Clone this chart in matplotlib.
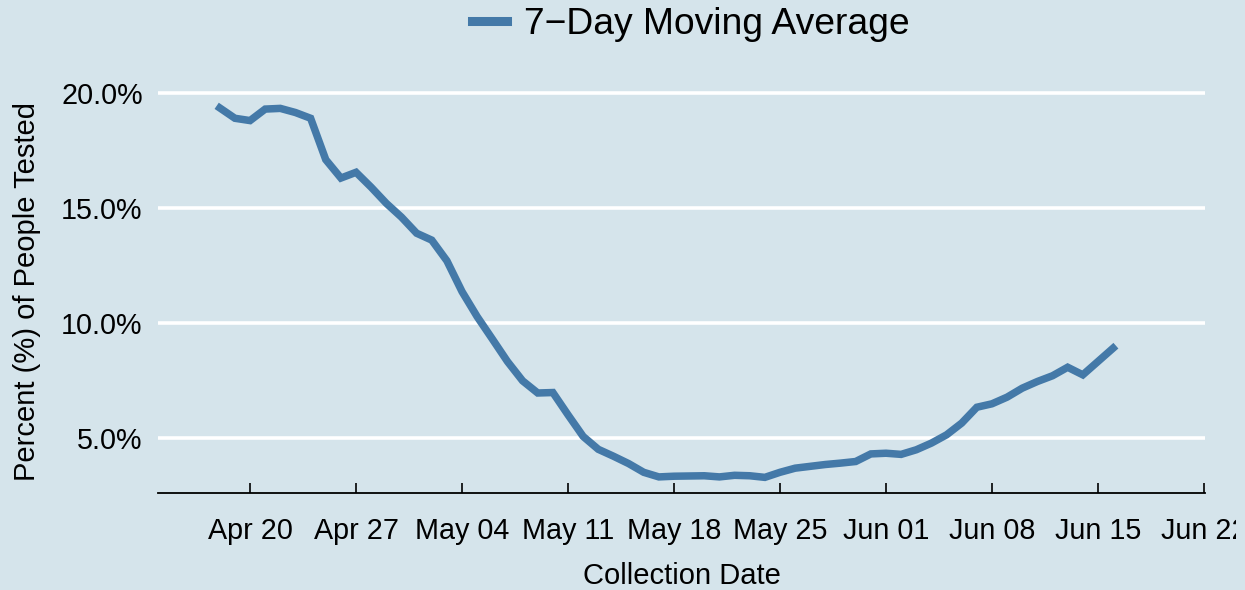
import matplotlib
matplotlib.use("Agg")
import matplotlib.pyplot as plt
import matplotlib.dates as mdates
from matplotlib.transforms import Bbox
import numpy as np
import datetime as dt

plt.rcParams['font.family'] = ['Liberation Sans', 'DejaVu Sans']

start_date = "2020-04-18"
pct_positive = [19.35, 18.9, 18.8, 19.3, 19.33, 19.15, 18.9, 17.1, 16.3, 16.55,
                15.9, 15.2, 14.6, 13.9, 13.6, 12.7, 11.36, 10.27, 9.3, 8.32,
                7.48, 6.95, 6.97, 6.0, 5.06, 4.5, 4.2, 3.88, 3.5, 3.3,
                3.33, 3.34, 3.35, 3.3, 3.37, 3.35, 3.28, 3.5, 3.68, 3.76,
                3.84, 3.9, 3.97, 4.3, 4.33, 4.28, 4.48, 4.77, 5.13, 5.64,
                6.33, 6.48, 6.77, 7.16, 7.45, 7.7, 8.07, 7.74, 8.32, 8.9]
tick_dates = ["2020-04-20", "2020-04-27", "2020-05-04", "2020-05-11", "2020-05-18",
              "2020-05-25", "2020-06-01", "2020-06-08", "2020-06-15", "2020-06-22"]
y_ticks = [5.0, 10.0, 15.0, 20.0]
series_label = "7\u2212Day Moving Average"

d0 = np.datetime64(start_date)
dates = (d0 + np.arange(len(pct_positive))).astype("datetime64[D]").astype(object)
ticks = [dt.datetime.strptime(t, "%Y-%m-%d") for t in tick_dates]

bg = "#d5e4eb"
fig = plt.figure(figsize=(12.45, 5.9), dpi=100, facecolor=bg)
ax = fig.add_axes([158/1245, 97/590, (1205-158)/1245, (493-70)/590])
ax.set_facecolor(bg)

for y in y_ticks:
    ax.axhline(y, color="white", lw=2.6, zorder=1)

ax.plot(dates, pct_positive, color="#4479a8", lw=5.4, solid_joinstyle="miter",
        label=series_label, zorder=3)

ax.set_xlim(mdates.date2num(dt.datetime(2020, 4, 20)) - 6.08,
            mdates.date2num(dt.datetime(2020, 6, 22)) + 0.07)
ax.set_ylim(2.6, 21.0)

ax.set_xticks(ticks)
ax.xaxis.set_major_formatter(mdates.DateFormatter("%b %d"))
ax.set_yticks(y_ticks)
ax.set_yticklabels([f"{v:.1f}%" for v in y_ticks])

for s in ["top", "right", "left"]:
    ax.spines[s].set_visible(False)
ax.spines["bottom"].set_color("black")
ax.spines["bottom"].set_linewidth(1.3)

ax.tick_params(axis="x", direction="in", length=7, width=1.2, color="black",
               labelsize=20.7, pad=17)
ax.tick_params(axis="y", length=0, labelsize=20.7, pad=11)

ax.set_xlabel("Collection Date", fontsize=21, labelpad=12.5)
ax.set_ylabel("Percent (%) of People Tested", fontsize=21)
ax.yaxis.set_label_coords(-0.112, 0.4775)

leg = fig.legend(loc="upper center", bbox_to_anchor=(0.555, 1.045), frameon=False,
                 fontsize=26.8, handlelength=0.95, handletextpad=0.45)
for h in leg.get_lines():
    h.set_linewidth(6.5)

# clip tick labels at the right border like the reference
clip = Bbox.from_extents(0, 0, 1236, 590)
for lab in ax.get_xticklabels():
    lab.set_clip_box(clip)
    lab.set_clip_on(True)

fig.savefig("out.png", dpi=100, facecolor=bg)
